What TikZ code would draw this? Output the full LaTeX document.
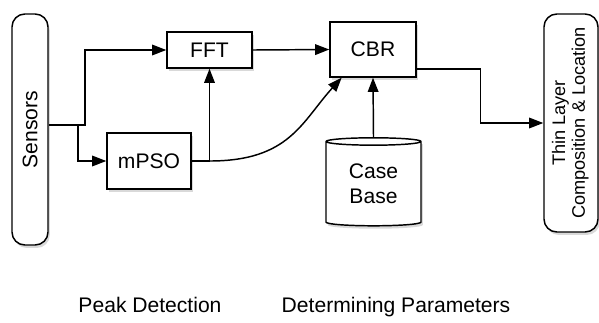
\documentclass[tikz,border=0pt]{standalone}
\usepackage{fontspec}
\setmainfont{Liberation Sans}
\usetikzlibrary{shapes.geometric, arrows.meta, shadows}

\begin{document}
\begin{tikzpicture}[x=0.03cm, y=-0.03cm, line width=1.25pt,
        >={Triangle[length=12pt, width=9pt]},
        block/.style={draw, fill=white, inner sep=0pt, font=\fontsize{18}{21.5}\selectfont,
            drop shadow={shadow xshift=1.5pt, shadow yshift=-2.5pt, opacity=0.3}},
        pill/.style={block, rounded corners=11pt},
        store/.style={block, cylinder, shape border rotate=90, aspect=0.15, align=center},
        caption/.style={anchor=base, font=\fontsize{18}{21.5}\selectfont}
    ]
        \useasboundingbox (0,0) rectangle (599,322);

        \node[pill, minimum width=1.08cm, minimum height=6.93cm] (sensors) at (30,129.5) {\rotatebox{90}{Sensors}};
        \node[block, minimum width=2.55cm, minimum height=1.08cm] (fft) at (209.5,50) {FFT};
        \node[block, minimum width=2.52cm, minimum height=1.68cm] (mpso) at (149,161) {mPSO};
        \node[block, minimum width=2.58cm, minimum height=1.65cm] (cbr) at (373,49.5) {CBR};
        \node[store, minimum width=2.85cm, minimum height=2.64cm] (cbase) at (373.5,184) {Case\\Base};
        \node[pill, minimum width=1.62cm, minimum height=6.54cm, font=\fontsize{15.5}{17}\selectfont] (thin) at (571,123)
            {\rotatebox{90}{\begin{tabular}{@{}c@{}}Thin Layer\\Composition \& Location\end{tabular}}};

        \coordinate (fork) at (78,125);
        \coordinate (split) at (mpso.east -| fft.south);

        \draw[->] (sensors.east |- fork) -- (fork -| 85,0) |- (fft.west);
        \draw[->] (fork) |- (mpso.west);
        \draw (mpso.east) -- (split);
        \draw[->] (split) -- (fft.south);
        \draw[->] (split) .. controls +(80,0) and +(-40,44) .. (cbr.222);
        \draw[->] (fft.east) -- (cbr.west);
        \draw[->] (cbase.top) -- (cbr.south);
        \draw[->] (cbr.-24) -- ++(64,0) |- (thin.west);

        \node[caption] (peak) at (150,312) {Peak Detection};
        \node[caption] (param) at (396,312) {Determining Parameters};
    \end{tikzpicture}
\end{document}
